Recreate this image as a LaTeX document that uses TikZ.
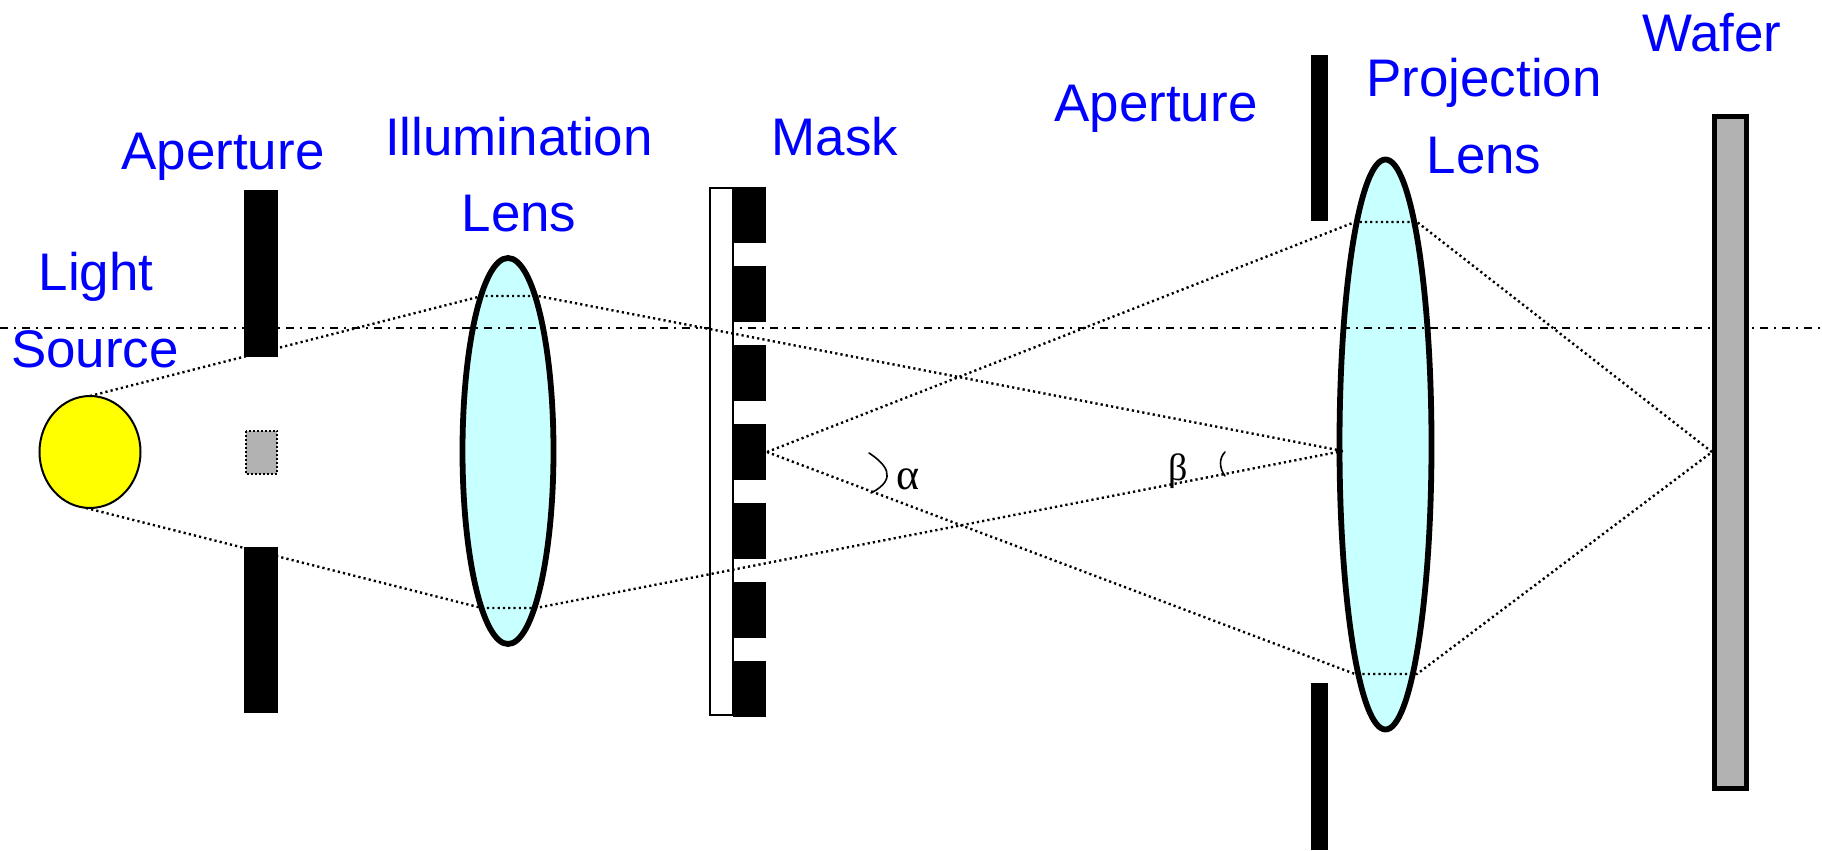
\documentclass[tikz,border=0pt]{standalone}
\usepackage{fontspec}
\setmainfont{Liberation Sans}
\newfontfamily\greekfont{Liberation Serif}
\definecolor{lensc}{RGB}{200,255,255}
\definecolor{grayc}{RGB}{178,178,178}
\definecolor{sunc}{RGB}{255,255,0}
\definecolor{txtc}{RGB}{0,0,255}
\tikzset{
  lbl/.style={text=txtc,font=\fontsize{26.45pt}{30pt}\selectfont,anchor=base,inner sep=0pt},
  glbl/.style={font=\greekfont\fontsize{#1}{22pt}\selectfont,anchor=base,inner sep=0pt},
  lens/.style={draw=black,fill=lensc,line width=2.9pt},
  bar/.style={fill=black},
  ray/.style={line width=1.2pt,dash pattern=on 1.1pt off 1.55pt},
  axisln/.style={line width=1pt,dash pattern=on 4pt off 3pt on 1pt off 3pt},
  angarc/.style={line width=0.8pt,line cap=round}
}
\begin{document}
\begin{tikzpicture}[x=0.5pt,y=-0.5pt]
\useasboundingbox (0,0) rectangle (1822,851);
% lenses
\draw[lens] (508,451) ellipse [x radius=45.5,y radius=193];
\draw[lens] (1385.5,444.5) ellipse [x radius=46,y radius=285];
% optical axis
\coordinate (axL) at (0,328);
\coordinate (axR) at (1822,328);
\draw[axisln] (axL) -- (axR);
% source
\draw[fill=sunc,line width=1pt] (90,452) ellipse [x radius=50.5,y radius=56];
% first aperture
\fill[bar] (244,190) rectangle (278,357);
\fill[bar] (244,547) rectangle (278,713);
\draw[fill=grayc,line width=1pt,dash pattern=on 1pt off 1pt] (245.5,430.5) rectangle (277,473.5);
% mask
\draw[fill=white,line width=1.4pt] (710,188) rectangle (733,715);
\foreach \yy in {187,266,345,424,503,582,661} \fill[bar] (733,\yy) rectangle +(33,55.5);
% second aperture
\fill[bar] (1311,55) rectangle (1328,221);
\fill[bar] (1311,683) rectangle (1328,850);
% wafer
\draw[fill=grayc,line width=2.5pt] (1714.5,116.5) rectangle (1746.5,788.5);
% rays
\coordinate (sT) at (90,396);
\coordinate (sB) at (86,508);
\coordinate (l1T) at (482,296);
\coordinate (l1Tr) at (538,296);
\coordinate (l1B) at (482,608);
\coordinate (l1Br) at (536,608);
\coordinate (foc) at (1343,451);
\coordinate (mk) at (767,452);
\coordinate (l2T) at (1355,222);
\coordinate (l2Tr) at (1417,222);
\coordinate (l2B) at (1355,674);
\coordinate (l2Br) at (1417,674);
\coordinate (waf) at (1712,452);
\draw[ray] (sT) -- (l1T) -- (l1Tr) -- (foc);
\draw[ray] (sB) -- (l1B) -- (l1Br) -- (foc);
\draw[ray] (mk) -- (l2T) -- (l2Tr) -- (waf);
\draw[ray] (mk) -- (l2B) -- (l2Br) -- (waf);
% angle marks
\coordinate (a1) at (869,453);
\coordinate (a2) at (871,493);
\coordinate (b1) at (1225,452);
\coordinate (b2) at (1225,476);
\draw[angarc] (a1) .. controls (884,463) and (900,478) .. (a2);
\draw[angarc] (b1) .. controls (1219,458) and (1219,468) .. (b2);
% labels
\node[lbl] (light) at (96,290) {Light};
\node[lbl] (source) at (95,367) {Source};
\node[lbl] (ap1) at (223,169) {Aperture};
\node[lbl] (illum) at (519,155) {Illumination};
\node[lbl] (lens1) at (519,231) {Lens};
\node[lbl] (mask) at (835,155) {Mask};
\node[lbl] (ap2) at (1156,121) {Aperture};
\node[lbl] (proj) at (1484,96) {Projection};
\node[lbl] (lens2) at (1484,173) {Lens};
\node[lbl] (wafer) at (1712,51) {Wafer};
\node[glbl=22pt] (al) at (908,489) {α};
\node[glbl=19pt] (be) at (1178,480) {β};
\end{tikzpicture}
\end{document}
